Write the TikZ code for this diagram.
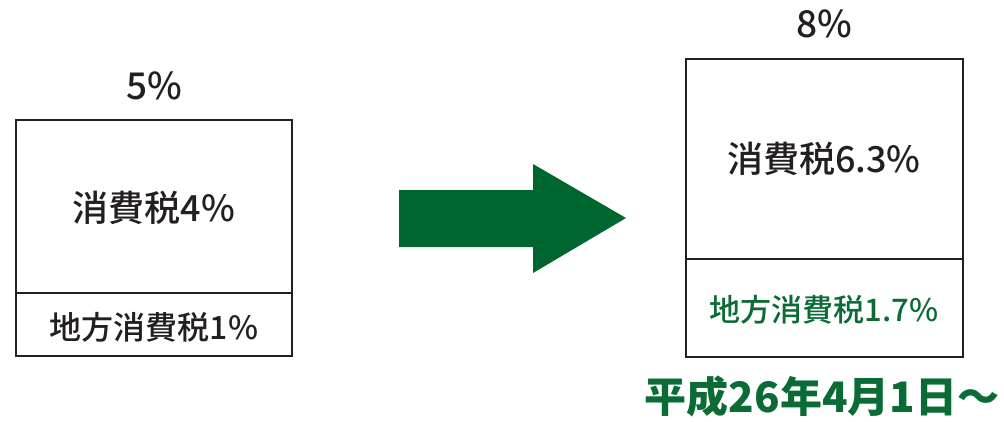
\documentclass[tikz,border=0pt]{standalone}
\usepackage{fontspec}
\setmainfont{Noto Sans CJK JP Medium}
\newfontfamily\jpblack{Noto Sans CJK JP Black}
\definecolor{dgreen}{HTML}{006630}
\definecolor{tgreen}{HTML}{0A6B35}
\definecolor{lineg}{HTML}{231F20}
\begin{document}
\begin{tikzpicture}[x=1pt,y=-1pt,
  boxline/.style={draw=lineg,line width=1.6pt},
  lbl/.style={inner sep=0pt,anchor=center,text=lineg}]
\useasboundingbox (0,0) rectangle (1004,421);
% left box
\draw[boxline] (16,120) rectangle (292,356);
\draw[boxline] (16,293) -- (292,293);
\node[lbl,font=\fontsize{37}{37}\selectfont] (p5) at (154,86) {5\%};
\node[lbl,font=\fontsize{36}{36}\selectfont] (c4) at (154,208) {消費税4\%};
\node[lbl,font=\fontsize{32}{32}\selectfont] (l1) at (154,327) {地方消費税1\%};
% arrow
\fill[dgreen] (399,190) -- (533,190) -- (533,164) -- (626,218) -- (533,273) -- (533,247) -- (399,247) -- cycle;
% right box
\draw[boxline] (686,59) rectangle (963,357);
\draw[boxline] (686,259) -- (963,259);
\node[lbl,font=\fontsize{37}{37}\selectfont] (p8) at (824,24) {8\%};
\node[lbl,font=\fontsize{36}{36}\selectfont] (c63) at (824,159) {消費税6.3\%};
\node[lbl,font=\fontsize{31}{31}\selectfont,text=tgreen] (l17) at (824,310) {地方消費税1.7\%};
\node[lbl,font=\jpblack\fontsize{42}{42}\selectfont,text=tgreen] (date) at (822,396) {平成26年4月1日〜};
\end{tikzpicture}
\end{document}
